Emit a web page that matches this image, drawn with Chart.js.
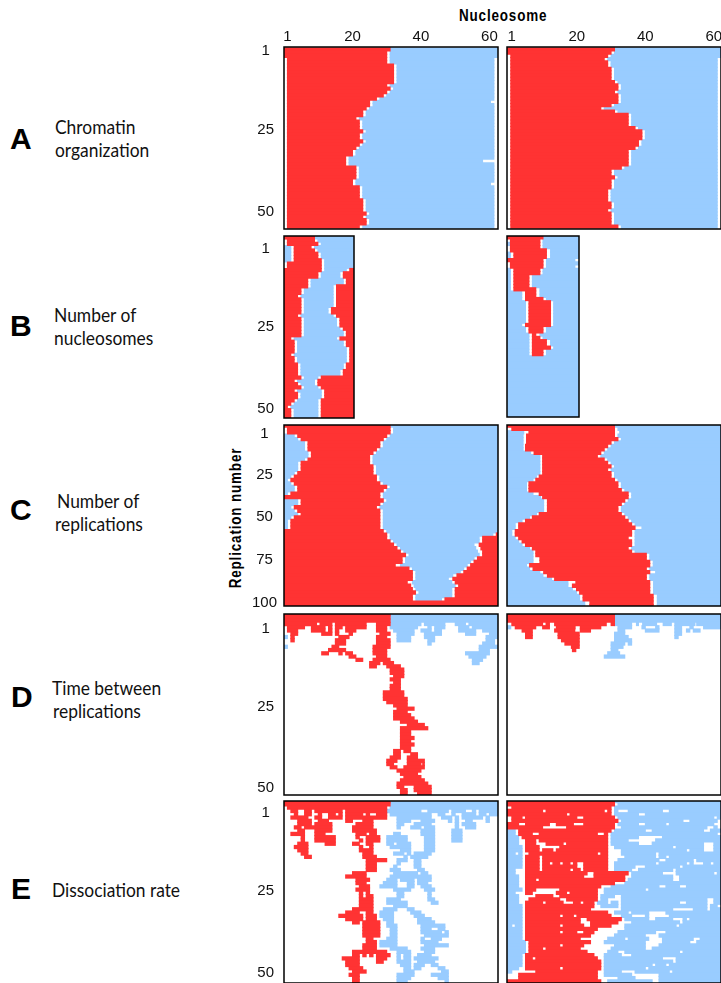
<!DOCTYPE html>
<html>
<head>
<meta charset="utf-8">
<script src="https://cdn.jsdelivr.net/npm/chart.js@4"></script>
<style>
  html, body { margin: 0; padding: 0; background: #fff; width: 721px; height: 983px; overflow: hidden; position: relative; }
  canvas { position: absolute; }
  .txt { position: absolute; font-family: Lato, "Open Sans", sans-serif; font-size: 20px; color: #111; white-space: nowrap; line-height: 1; transform-origin: left center; transform: translateY(-50%) scaleX(0.87); }
  .letra { position: absolute; font-family: "Liberation Sans", sans-serif; font-weight: bold; font-size: 30px; color: #000; line-height: 1; transform: translateY(-50%); }
  .eixo { position: absolute; font-family: "Liberation Sans", sans-serif; font-weight: bold; font-size: 16px; letter-spacing: 1px; color: #000; white-space: nowrap; line-height: 1; }
</style>
</head>
<body>
<div class="eixo" style="left:459px;top:8px;transform-origin:left center;transform:scaleX(0.84)">Nucleosome</div>
<div class="eixo" style="left:236px;top:518px;transform:translate(-50%,-50%) rotate(-90deg) scaleX(0.84)">Replication number</div>

<div class="letra" style="left:10px;top:139px">A</div>
<div class="txt" style="left:55px;top:125.5px">Chromatin</div>
<div class="txt" style="left:55px;top:148.5px">organization</div>
<div class="letra" style="left:10px;top:326px">B</div>
<div class="txt" style="left:54px;top:313.5px">Number of</div>
<div class="txt" style="left:54px;top:336.5px">nucleosomes</div>
<div class="letra" style="left:10px;top:510px">C</div>
<div class="txt" style="left:57px;top:499.5px">Number of</div>
<div class="txt" style="left:55px;top:522.5px">replications</div>
<div class="letra" style="left:11px;top:697px">D</div>
<div class="txt" style="left:52px;top:686.5px">Time between</div>
<div class="txt" style="left:53px;top:709.5px">replications</div>
<div class="letra" style="left:11px;top:889px">E</div>
<div class="txt" style="left:52px;top:888.5px">Dissociation rate</div>

<script>
// Cada linha: "vermelho|azul", trechos inicio:fim lidos no eixo Nucleosome
const nucleosomeTicks = [1, 20, 40, 60];
const replicationTicks = [1, 25, 50];
const replicationTicksC = [1, 25, 50, 75, 100];

// A - linhas 1 a 55
const rowsA1 = [
  '0:31|31:62.5', '0:30|31:62.5', '0:30|31:62.5', '1:30|31:61.3', '1:30|31:61.3',
  '1:32|33:61.3', '1:32|33:61.3', '1:32|33:61.3', '1:32|33:61.3', '1:32|33:61.3', '1:32|33:61.3',
  '1:30|31:61.3', '1:31|32:61.3', '1:30|31:61.3', '1:29|30:61.3', '1:27|28:61.3',
  '1:25|26:60.3', '1:25|26:61.3', '1:24|25:61.3', '1:23|24:61.3', '1:23|24:61.3',
  '1:21|22:61.3', '1:22|23:61.3', '1:22|23:61.3', '1:22|23:61.3', '1:23|24:61.3',
  '1:22|23:61.3', '1:22|23:61.3', '1:23|24:61.3', '1:22|23:61.3', '1:21|22:61.3',
  '1:20|21:61.3', '1:20|21:61.3', '1:18|19:61.3', '1:18|19:58', '1:18|19:61.3',
  '1:21|22:61.3', '1:21|22:61.3', '1:21|22:61.3', '1:21|22:61.3', '1:20|21:61.3',
  '1:20|21:60.3', '1:22|23:61.3', '1:22|23:61.3', '1:22|23:61.3', '1:22|23:61.3',
  '1:23|24:61.3', '1:23|24:61.3', '1:23|24:61.3', '1:23|24:61.3', '1:24|25:61.3',
  '1:23|24:61.3', '1:24|25:61.3', '1:24|25:61.3', '1:22|23:61.3'
];
const rowsA2 = [
  '-0.4:31|31:62.1', '-0.4:30|31:62.1', '0.7:29|30:62.1', '0.7:28|29:61', '0.7:29|30:61',
  '0.7:29|30:61', '0.7:30|31:61', '0.7:30|31:61', '0.7:30|31:61', '0.7:30|31:61',
  '0.7:31|32:61', '0.7:32|33:61', '0.7:32|33:61', '0.7:31|32:61', '0.7:32|33:61',
  '0.7:32|33:61', '0.7:32|33:61', '0.7:30|31:61', '0.7:27|28:61', '0.7:31|32:61',
  '0.7:35|36:61', '0.7:35|36:61', '0.7:35|36:61', '0.7:35|36:61', '0.7:37|38:61',
  '0.7:39|40:61', '0.7:39|40:61', '0.7:39|40:61', '0.7:38|39:61', '0.7:38|39:61',
  '0.7:37|38:61', '0.7:35|36:61', '0.7:35|36:61', '0.7:35|36:61', '0.7:35|36:61',
  '0.7:35|36:61', '0.7:33|34:61', '0.7:30|31:61', '0.7:30|31:61', '0.7:31|32:61',
  '0.7:30|31:61', '0.7:30|31:61', '0.7:30|31:61', '0.7:29|30:61', '0.7:29|30:61',
  '0.7:29|30:61', '0.7:29|30:61', '0.7:30|31:61', '0.7:30|31:61', '0.7:29|30:61',
  '0.7:30|31:61', '0.7:30|31:61', '0.7:30|31:61', '0.7:30|31:61', '0.7:32|33:61'
];

// B - linhas -2 a 53
const rowsB1 = [
  '0:9|9:20.66', '1:9|10:20.66', '1:10|11:20.66', '3:8|0:2,9:20.66', '3:9|0:2,10:20.66',
  '3:10|0:2,11:20.66', '3:10|0:2,11:20.66', '3:11|0:2,12:20.66', '1:11|12:20.66', '1:11|12:20.66',
  '0:11,19.4:20.66|12:18.4', '0:10,17.5:20.66|11:16.5', '0:10,17.5:20.66|11:16.5',
  '0:7,18.4:20.66|8:17.5', '0:7,18.4:20.66|8:17.5', '0:7,15.5:20.66|8:14.5',
  '0:5,15.5:20.66|6:14.5', '0:5,15.5:20.66|6:14.5', '0:4,15.5:20.66|5:14.5',
  '0:5,15.5:20.66|6:14.5', '0:5,15.5:20.66|6:14.5', '0:5,15.5:20.66|6:14.5',
  '0:5,14:20.66|6:13', '0:5,14:20.66|6:13', '0:4,15.5:20.66|5:14.5',
  '0:5,16.5:20.66|6:15.5', '0:5,16.5:20.66|6:15.5', '0:5,16.5:20.66|6:15.5',
  '0:5,17.5:20.66|6:16.5', '0:5,18.4:20.66|6:17.5', '0:5,18.4:20.66|6:17.5',
  '0:2,16.5:20.66|3:15.5', '0:3,18.4:20.66|4:17.5', '0:3,18.4:20.66|4:17.5',
  '0:3,19.4:20.66|4:18.4', '0:3,19.4:20.66|4:18.4', '0:2,19.4:20.66|3:18.4',
  '0:3,19.4:20.66|4:18.4', '0:3,19.4:20.66|4:18.4', '0:4,18.4:20.66|5:17.5',
  '0:4,18.4:20.66|5:17.5', '0:4,17.5:20.66|5:16.5', '0:4,17.5:20.66|5:16.5',
  '0:5,11:20.66|6:10', '0:3,10:20.66|4:9', '0:4,10:20.66|5:9',
  '0:5,11:20.66|6:10', '0:3,12:20.66|4:11', '0:4,12:20.66|5:11', '0:4,12:20.66|5:11',
  '0:3,11:20.66|4:10', '0:2,11:20.66|3:10', '0:1,11:20.66|2:10', '0:2,11:20.66|3:10',
  '0:2,11:20.66|3:10', '0:2,11:20.66|3:10'
];
const rowsB2 = [
  '0:10.5|10.5:21', '1:9.6|10.5:21', '1:9.6|0:1,10.5:21', '1:9.6|10.5:21', '1:11.5|12.7:21',
  '2:11.5|0:1,12.7:21', '2:11.5|0:1,12.7:21', '0:10.5|11.5:19.8', '1:10.5|11.5:21', '1:10.5|11.5:19.8',
  '2:9.6|0:1,10.5:21', '2:9.6|0:1,10.5:21', '2:6.4|0:1,7.4:21', '2:6.4|0:1,7.4:21', '2:6.4|0:1,7.4:21',
  '2:6.4|0:1,7.4:21', '2:8.4|0:1,9.6:21', '5.4:8.4|0:4.3,9.6:21', '5.4:8.4|0:4.3,9.6:21', '5.4:10.5|0:4.3,11.5:21',
  '6.4:12.7|0:5.4,13.6:21', '6.4:12.7|0:5.4,13.6:21', '6.4:12.7|0:5.4,13.6:21', '6.4:12.7|0:5.4,13.6:21',
  '6.4:12.7|0:5.4,13.6:21', '6.4:12.7|0:5.4,13.6:21', '6.4:12.7|0:5.4,13.6:21', '5.4:12.7|0:4.3,13.6:21',
  '6.4:10.5|0:5.4,11.5:21', '6.4:10.5|0:5.4,11.5:21', '7.4:8.4|0:6.4,9.6:21', '7.4:9.6|0:6.4,10.5:21',
  '7.4:11.5|0:6.4,12.7:21', '7.4:11.5|0:6.4,12.7:21', '7.4:12.7|0:6.4,13.6:21', '7.4:10.5|0:6.4,11.5:21',
  '7.4:10.5|0:6.4,11.5:21', '|0:21', '|0:21', '|0:21', '|0:21', '|0:21', '|0:21', '|0:21', '|0:21', '|0:21',
  '|0:21', '|0:21', '|0:21', '|0:21', '|0:21', '|0:21', '|0:21', '|0:21', '|0:21', '|0:21'
];

// C - linhas -3 a 103, de duas em duas
const rowsC1 = [
  '0:31|31:62.5', '1:31|32:62.5', '1:31|32:62.5', '4:30|0:3,31:62.5', '5:29|0:4,30:62.5',
  '7:28|0:6,29:62.5', '7:28|0:6,29:62.5', '7:27|0:6,28:62.5', '8:26|0:7,27:62.5', '8:25|0:7,26:62.5',
  '7:25|0:6,26:62.5', '5:25|0:4,26:62.5', '5:26|0:4,27:62.5', '5:26|0:4,27:62.5', '4:26|0:3,27:62.5',
  '3:27|0:2,28:62.5', '2:27|0:1,28:62.5', '3:28|0:2,29:62.5', '4:30|0:3,31:62.5', '4:29|0:3,30:62.5',
  '2:28|0:1,29:62.5', '0:28|29:62.5', '5:29|0:4,30:62.5', '5:28|0:4,29:62.5', '3:27|0:2,28:62.5',
  '4:28|0:3,29:62.5', '5:28|0:4,29:62.5', '3:28|0:2,29:62.5', '2:28|0:1,29:62.5', '2:28|0:1,29:62.5',
  '2:28|0:1,29:62.5', '0:29|30:62.5', '0:30,62:62.5|31:61', '0:30,58:62.5|31:57', '0:31,58:62.5|32:57',
  '0:32,57:62.5|33:55.5', '0:33,57.5:62.5|34:56', '0:34,58:62.5|35:56.5', '0:35.5,58:62.5|36.5:57',
  '0:34.5,56.5:62.5|35.5:55.5', '0:34.5,55.5:62.5|35.5:54.5', '0:32.5,54.5:62.5|34:53.5',
  '0:36.5,53.5:62.5|37.5:52.5', '0:37.5,52.5:62.5|38.5:51.5', '0:37.5,50.5:62.5|38.5:49.3',
  '0:37.5,49.3:62.5|38.5:48', '0:36,50:62.5|37.5:49', '0:37,51:62.5|38:50', '0:37.5,50:62.5|38.5:49',
  '0:38.4,50:62.5|39.4:49', '0:37.5,50:62.5|38.5:49', '0:37.5,47:62.5|38.5:46', '0:62.5|', '0:62.5|'
];
const rowsC2 = [
  '-0.4:31|31:62.1', '1:31|32:62.1', '6:31|-0.4:4.5,32.5:62.1', '5.3:31|-0.4:4.3,32:62.1', '5.3:32|-0.4:4.3,33:62.1',
  '5.3:30|-0.4:4.3,31:62.1', '5:29|-0.4:4.3,30:62.1', '5:28|-0.4:4.3,29:62.1', '7.5:27|-0.4:6.5,28:62.1',
  '10:26|-0.4:9.2,27:62.1', '10:28|-0.4:9.2,29:62.1', '10:29|-0.4:9.2,30:62.1', '10:30|-0.4:9.2,31:62.1',
  '10:29|-0.4:9.2,30:62.1', '10:30|-0.4:9.2,31:62.1', '9:30|-0.4:8.2,31:62.1', '8:31|-0.4:7.2,32:62.1',
  '6:32|-0.4:5.3,33:62.1', '6:32|-0.4:5.3,33:62.1', '6:33|-0.4:5.3,34:62.1', '9:35|-0.4:7.2,36:62.1',
  '10:35|-0.4:9.4,36:62.1', '11.4:34|-0.4:10.3,35:62.1', '11.4:33|-0.4:10.3,34:62.1', '11.4:32|-0.4:10.3,33:62.1',
  '11.4:32|-0.4:10.3,33:62.1', '9:33|-0.4:8.2,34:62.1', '7:34|-0.4:6.2,35:62.1', '5:35|-0.4:4,36:62.1',
  '3:36|-0.4:2,37:62.1', '3:37|-0.4:2,39:62.1', '2:36|-0.4:1,37:62.1', '2:36|-0.4:1,37:62.1', '3:35|-0.4:2,37:62.1',
  '4:36|-0.4:3,37:62.1', '5:36|-0.4:4,37:62.1', '7:35|-0.4:6.2,36:62.1', '8:36|-0.4:7.2,37:62.1', '8:40.3|-0.4:7.2,41.3:62.1',
  '9.2:40.3|-0.4:7.2,41.3:62.1', '9.2:41.3|-0.4:7.2,42.3:62.1', '6.2:41.3|-0.4:5.3,42.3:62.1', '7.2:40.3|-0.4:6.2,41.3:62.1',
  '10.3:41.3|-0.4:9.2,43:62.1', '11.4:40.3|-0.4:10.1,41.3:62.1', '13.5:40.3|-0.4:12.6,41.3:62.1',
  '19.7:41.3|-0.4:17.4,42.4:62.1', '18.7:41.3|-0.4:17.4,42.4:62.1', '19.9:41.3|-0.4:18.7,42.4:62.1',
  '20.8:41.3|-0.4:19.9,42.4:62.1', '21.8:42.3|-0.4:20.8,43.5:62.1', '21.8:42.3|-0.4:20.8,43.5:62.1',
  '23.8:42.3|-0.4:22.3,43.5:62.1', '23.8:42.3|-0.4:22.3,43.5:62.1'
];

// D - linhas -3 a 52
const rowsD1 = [
  '0:31|31:62.5', '0:31|31:62.5', '0:31|31:62.5',
  '0:9.5,10.5:14,15:24,27:31|31:40,41:47,50:53,54:62.5',
  '1:6,8:12,13:14,15:17,18:24,27:30|31:39,42:43,44:47,51:54,55:62.5',
  '1:4,8:12,13:14,15:16,18:21,27:30|32:38,40:43,44:46,51:56,58:62.5',
  '2:4,11:14,15:16,19:20,28:31|33:38,41:46,53:56,60:62.5',
  '2:3,16:19,27:30|0:1,33:37,41:44,59:62.5',
  '2:3,15:18,27:31|33:37,42:44,59:61.5',
  '15:18,27:31|42:43,58:61.5',
  '14:16,26:31|0:1,57:62.5',
  '13:18,26:30|57:60',
  '11:13,16:17,18:20,26:30|53:60',
  '19:21,27:30|54:59',
  '21:23,26:31|55:58',
  '25:28,29:32|55:57',
  '25:27,30:34|', '31:35|', '31:35|', '32:35|', '31:34|', '32:34|', '31:34|', '31:34|',
  '29:35|', '29:35|', '29:36|', '30:36|', '32:36|', '33:38|', '32:36|', '32:37|', '32:38|',
  '34:39|', '36:41|', '34:42|', '34:37|', '34:37|', '34:38|', '34:37|', '34:38|', '34:37|',
  '32:34,35:37|', '32:34,37:39|', '31:34,36:39|', '30:33,36:41|', '30:32,36:40,40.5:41|',
  '31:33,35:41|', '33:40|', '34:39|', '35:40|', '34:41|', '33:42|',
  '33:35,38:43|', '34:36,38:43|', '34:36,39:43|'
];
const rowsD2 = [
  '-0.4:31|31:62.1', '-0.4:31|31:62.1', '-0.4:31|31:62.1',
  '1:10,11:12,13.5:28.6,30:31|31:36,37.4:38,39.2:43.3,45.2:47.6,48.6:54.5,55:62.1',
  '2:8,10:12,14:19.5,21:27|-0.4:0.7,32:36,39:40,43:44,48.6:50.6,53:54,57:62.1',
  '4:7,13.5:19.4,21:24|32:34,40:44,48.6:50.6,52:53,54:56',
  '5:7,14.5:20.7|31:34,48.6:50.6',
  '5:7,14.5:20.7|31:35,48.6:49.6',
  '15.5:20.7|31:36',
  '16.5:20.7|30:34,35:36',
  '18.4:20.7|30:33.5',
  '18.7:19.7|30:32',
  '|29:32.5',
  '|28:34'
];

// E - linhas -2 a 53
const rowsE1 = [
  '0:31|31:62.5', '0:31|31:62.5', '1:30|31:62.5',
  '2:4,6:8,9:17,18:30|30:40,42:48,49:53,55:56,57:62.5',
  '3:4,6:8,10:11,13:15,16:17,18:23,24:25,27:30|31:43,45:47,49:50,52:56,57:59,60:62.5',
  '2:7,9:11,13:17,18:30|33:43,46:49,50:51,52:58,59:60',
  '4:8,10:13,18:20,23:26|33:37,40:44,48:49,50:51,53:55,59:60',
  '4:8,9:14,21:26|33:35,38:43,50:51,52:56',
  '3:5,6:14,20:26|33:34,37:40,41:44,50:51,53:56',
  '4:6,9:14,20:27|40:44,49:52',
  '2:6,9:12,21:24,25:27|32:34,40:44,49:52',
  '5:6,9:15,21:22,24:28|30:36,41:44,49:52',
  '5:6,9:15,22:23,24:28|30:36,41:44,49:52',
  '4:7,12:15,20:22,24:26|30:32,33:37,41:44',
  '3:7,22:23,25:26|31:37,41:44',
  '4:7,22:26|34:37,41:44',
  '5:7,23:26|32:35,36:37,38:43',
  '6:8,23:27|35:36,37:42',
  '24:30|33:36,38:40',
  '24:27|33:34,38:40',
  '24:27|32:33,38:40',
  '24:27|31:34,39:41',
  '20:24|32:39,40:42',
  '18:24|31:43',
  '21:25|30:33,34:38,39:43',
  '21:24|29:33,36:38,39:42',
  '22:25|28:33,36:38,40:43',
  '21:25|32:37,41:44',
  '22:23,24:25|33:35,42:43',
  '22:23,24:26|33:35,42:43',
  '22:26|30:34,42:44',
  '22:26|30:36,43:45',
  '22:26|32:36',
  '20:26|29:33,36:38',
  '18:22,24:26|28:32,37:40',
  '16:23,24:27|28:32,38:41',
  '18:23,24:27|29:32,39:43',
  '20:22,23:28|30:32,39:44',
  '23:28|30:33,40:47',
  '23:28|31:33,40:43,45:47',
  '23:28|31:33,40:46,47:48',
  '23:28|31:33,41:48',
  '24:26|30:33,40:41,43:46',
  '24:27|28:33,40:45',
  '23:27|28:33,41:48',
  '23:27|31:36,40:44',
  '20:30|33:37,41:44',
  '20:22,23:24,25:26,27:31|33:34,35:37,39:43',
  '17:22,27:30|33:34,35:37,38:45',
  '18:22,27:29|33:37,39:44',
  '18:22|34:37,38:41,43:45',
  '19:23|35:37,38:40,45:47',
  '20:24|35:38,46:48',
  '19:22|33:38,43:48',
  '20:22|33:37,45:48',
  '20:22|33:36,47:48'
];
const rowsE2 = [
  '-0.4:31|31:62.1', '-0.4:31|32:62.1', '1:30|31:62.1',
  '-0.4:10,11:28,29:30|31:32,35:45,47:62.1',
  '-0.4:17,18:30|31:38,40:62.1',
  '1:4,5:20,22:31|32:60,61:62.1',
  '1:32|33:51,53:61',
  '-0.4:3,5:12,14:19,22:31|32:38,40:46,47:60',
  '-0.4:10,17:31|33:58,60:61',
  '3:30|-0.4:2,31:40,42:57,59:62.1',
  '3:7,9:26,28:29|-0.4:2,30:61',
  '4:29|-0.4:3,30:38,45:62.1',
  '5:8,9:29|-0.4:3,30:35,43:62.1',
  '5:8,11:16,17:29|-0.4:3,30:38,42:57,60:62.1',
  '5:9,15:29|-0.4:4,31:48,49:57,60:62.1',
  '5:9,10:13,14:29|-0.4:4,33:52,53:57,60:62.1',
  '6:26,27:29|-0.4:2,3:4,33:43,44:62.1',
  '5:9,10:29|-0.4:4,34:43,44:46,47:62.1',
  '5:9,10:29|-0.4:4,32:44,46:54,55:62.1',
  '5:9,10:12,13:15,16:18,19:20,22:29|-0.4:4,31:43,44:52,53:54,57:59,60:62.1',
  '5:9,10:20,22:29|-0.4:4,31:37,40:50,51:62.1',
  '5:9,10:18,19:21,22:29|-0.4:2,31:36,38:48,49:62.1',
  '5:23,25:35|-0.4:2,36:45,49:60,61:62.1',
  '5:22,25:34|-0.4:3,36:48,50:62.1',
  '5:8,9:34|-0.4:3,35:48,50:62.1',
  '5:31|-0.4:3,34:62.1',
  '5:27|-0.4:3,30:44,46:50,52:62.1',
  '5:8,15:26|-0.4:4,28:40,41:62.1',
  '5:7,14:17,18:26|-0.4:2,28:62.1',
  '8:13,15:26|-0.4:3,27:31,33:62.1',
  '6:15,17:26|-0.4:3,27:29,33:58,60:62.1',
  '5:10,11:16,19:21,22:25|-0.4:3,26:29,30:32,33:50,52:58,60:62.1',
  '5:25|-0.4:4,27:32,33:58,59:61',
  '5:24|-0.4:4,33:48,54:58,59:62.1',
  '5:29|-0.4:4,31:35,36:41,46:62.1',
  '5:15,16:19,20:30|-0.4:4,33:36,40:41,47:62.1',
  '5:21,23:33|-0.4:4,34:41,43:48,51:52,53:62.1',
  '5:21,24:32|-0.4:4,36:50,51:62.1',
  '5:15,16:22,24:30|-0.4:1,2:4,34:49,50:62.1',
  '5:26|-0.4:4,34:62.1',
  '5:15,16:20,22:25|-0.4:4,32:43,46:62.1',
  '5:24|-0.4:4,31:40,44:62.1',
  '5:21|-0.4:4,29:34,35:41,45:54,56:62.1',
  '6:24|-0.4:5,28:40,45:53,55:62.1',
  '6:15,16:22|-0.4:5,31:40,44:62.1',
  '6:10,11:21|-0.4:5,30:40,42:62.1',
  '6:23|-0.4:5,29:32,34:50,51:62.1',
  '5:25|-0.4:4,28:33,36:62.1',
  '5:7,8:26|-0.4:4,28:45,49:62.1',
  '5:27|-0.4:4,28:48,49:62.1',
  '5:27|-0.4:4,28:42,43:46,47:62.1',
  '5:15,16:27|-0.4:3,28:40,41:62.1',
  '8:26|-0.4:1,28:33,37:47,48:62.1',
  '3:26|28:36,44:62.1',
  '3:26|32:37,44:62.1',
  '-0.4:27|29:42,44:62.1'
];

const VERMELHO = '#ff3333';
const AZUL = '#99ccff';
const fonteTicks = { family: '"Liberation Sans", sans-serif', size: 15 };

// Desenha a moldura preta do painel
const moldura = {
  id: 'moldura',
  afterDraw(chart) {
    const { ctx, chartArea: a } = chart;
    ctx.save();
    ctx.strokeStyle = '#000';
    ctx.lineWidth = 1.5;
    ctx.strokeRect(a.left, a.top, a.right - a.left, a.bottom - a.top);
    ctx.restore();
  }
};

function trechos(texto, linha) {
  if (!texto) return [];
  return texto.split(',').map(t => {
    const [ini, fim] = t.split(':').map(Number);
    return { x: [ini, fim], y: linha };
  });
}

function montarPainel(cfg) {
  const yW = cfg.yLabels ? 40 : 2;
  const xH = cfg.xLabels ? 20 : 2;
  const canvas = document.createElement('canvas');
  canvas.width = yW + cfg.w + 3;
  canvas.height = xH + cfg.h + 3;
  canvas.style.left = (cfg.left - yW) + 'px';
  canvas.style.top = (cfg.top - xH) + 'px';
  document.body.appendChild(canvas);

  const vermelhos = [];
  const azuis = [];
  cfg.rows.forEach((linha, i) => {
    const [r, b] = linha.split('|');
    const n = cfg.firstRow + i * cfg.step;
    vermelhos.push(...trechos(r, n));
    azuis.push(...trechos(b, n));
  });

  const estilo = { barPercentage: 1, categoryPercentage: 1, grouped: false, inflateAmount: 0.5 };

  new Chart(canvas.getContext('2d'), {
    type: 'bar',
    data: {
      datasets: [
        { data: vermelhos, backgroundColor: VERMELHO, ...estilo },
        { data: azuis, backgroundColor: AZUL, ...estilo }
      ]
    },
    options: {
      indexAxis: 'y',
      responsive: false,
      animation: false,
      layout: { autoPadding: false, padding: { top: 0, right: 3, bottom: 3, left: 0 } },
      plugins: { legend: { display: false }, tooltip: { enabled: false } },
      scales: {
        x: {
          type: 'linear',
          position: 'top',
          min: cfg.xMin,
          max: cfg.xMax,
          grid: { display: false, drawTicks: false },
          border: { display: false },
          ticks: { display: !!cfg.xLabels, autoSkip: false, maxRotation: 0, padding: 1, font: fonteTicks, color: '#111' },
          afterBuildTicks: axis => { axis.ticks = nucleosomeTicks.map(v => ({ value: v })); },
          afterFit: axis => { axis.height = xH; axis.paddingLeft = 0; axis.paddingRight = 0; }
        },
        y: {
          type: 'linear',
          offset: false,
          reverse: true,
          min: cfg.yMin,
          max: cfg.yMax,
          grid: { display: false, drawTicks: false, offset: false },
          border: { display: false },
          ticks: { display: !!cfg.yLabels, autoSkip: false, crossAlign: 'center', labelOffset: 1.5, padding: cfg.yPad || 10, font: fonteTicks, color: '#111' },
          afterBuildTicks: axis => { axis.ticks = (cfg.yTicks || replicationTicks).map(v => ({ value: v })); },
          afterFit: axis => { axis.width = yW; axis.paddingTop = 0; axis.paddingBottom = 0; }
        }
      }
    },
    plugins: [moldura]
  });
}

const ESQ = { left: 283.7, w: 214, xMin: 0, xMax: 62.5 };
const DIR = { left: 507.3, w: 214, xMin: -0.4, xMax: 62.1 };

montarPainel({ ...ESQ, top: 46.7, h: 182, rows: rowsA1, firstRow: 1, step: 1, yMin: 0.3, yMax: 55.7, xLabels: true, yLabels: true });
montarPainel({ ...DIR, top: 46.7, h: 182, rows: rowsA2, firstRow: 1, step: 1, yMin: 0.3, yMax: 55.7, xLabels: true });

montarPainel({ left: 283.7, w: 70.6, xMin: 0, xMax: 20.66, top: 236, h: 182.5, rows: rowsB1, firstRow: -2, step: 1, yMin: -2.45, yMax: 53.4, yLabels: true });
montarPainel({ left: 507.3, w: 72, xMin: 0, xMax: 21, top: 236, h: 181.5, rows: rowsB2, firstRow: -2, step: 1, yMin: -2.45, yMax: 53.4 });

montarPainel({ ...ESQ, top: 425, h: 181, rows: rowsC1, firstRow: -3, step: 2, yMin: -3.3, yMax: 102.9, yLabels: true, yTicks: replicationTicksC, yPad: 7 });
montarPainel({ ...DIR, top: 425, h: 181, rows: rowsC2, firstRow: -3, step: 2, yMin: -3.3, yMax: 102.9 });

montarPainel({ ...ESQ, top: 613.7, h: 181.5, rows: rowsD1, firstRow: -3, step: 1, yMin: -3.07, yMax: 52.5, yLabels: true });
montarPainel({ ...DIR, top: 613.7, h: 181.5, rows: rowsD2, firstRow: -3, step: 1, yMin: -3.07, yMax: 52.5 });

montarPainel({ ...ESQ, top: 801, h: 182.5, rows: rowsE1, firstRow: -2, step: 1, yMin: -2.05, yMax: 53.5, yLabels: true });
montarPainel({ ...DIR, top: 801, h: 182.5, rows: rowsE2, firstRow: -2, step: 1, yMin: -2.05, yMax: 53.5 });
</script>
</body>
</html>
